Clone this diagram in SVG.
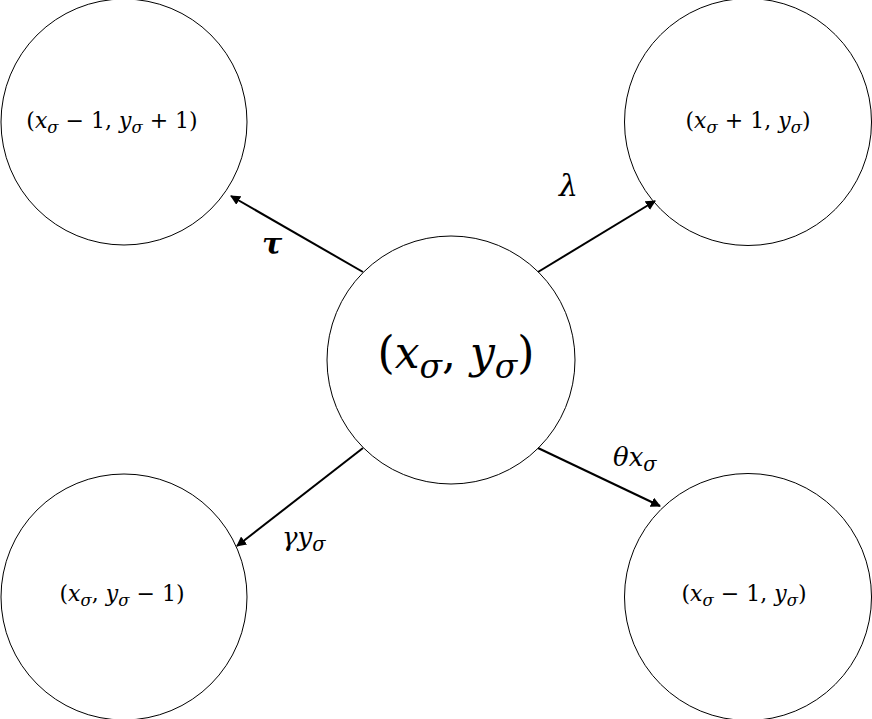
<svg xmlns="http://www.w3.org/2000/svg" width="872" height="719" viewBox="0 0 872 719">
<defs>
<marker id="ah" viewBox="0 0 10 10" refX="9" refY="5" markerWidth="5" markerHeight="5" orient="auto" markerUnits="strokeWidth">
<path d="M0,0 L10,5 L0,10 z" fill="#000"/>
</marker>
<style>
.node{fill:#fff;stroke:#000;stroke-width:1}
.edge{stroke:#000;stroke-width:2;fill:none;marker-end:url(#ah)}
text{font-family:"DejaVu Serif","Liberation Serif",serif;fill:#000}
.lbl{font-size:22px}
.big{font-size:44px}
.i{font-style:italic}
.s{font-style:italic;font-size:75%}
</style>
</defs>
<rect width="872" height="719" fill="#fff"/>
<g id="n-tl">
<circle class="node" cx="124" cy="122" r="123"/>
<text class="lbl" x="112" y="128" text-anchor="middle">(<tspan class="i">x</tspan><tspan class="s" dy="5">σ</tspan><tspan dy="-5"> − 1, </tspan><tspan class="i">y</tspan><tspan class="s" dy="5">σ</tspan><tspan dy="-5"> + 1)</tspan></text>
</g>
<g id="n-tr">
<circle class="node" cx="748" cy="122" r="123.5"/>
<text class="lbl" x="748" y="128" text-anchor="middle">(<tspan class="i">x</tspan><tspan class="s" dy="5">σ</tspan><tspan dy="-5"> + 1, </tspan><tspan class="i">y</tspan><tspan class="s" dy="5">σ</tspan><tspan dy="-5">)</tspan></text>
</g>
<g id="n-c">
<circle class="node" cx="451" cy="360" r="124"/>
<text class="big" x="456" y="368" text-anchor="middle">(<tspan class="i">x</tspan><tspan class="s" dy="10">σ</tspan><tspan dy="-10">, </tspan><tspan class="i">y</tspan><tspan class="s" dy="10">σ</tspan><tspan dy="-10">)</tspan></text>
</g>
<g id="n-bl">
<circle class="node" cx="124" cy="597" r="123"/>
<text class="lbl" x="122" y="601" text-anchor="middle">(<tspan class="i">x</tspan><tspan class="s" dy="5">σ</tspan><tspan dy="-5">, </tspan><tspan class="i">y</tspan><tspan class="s" dy="5">σ</tspan><tspan dy="-5"> − 1)</tspan></text>
</g>
<g id="n-br">
<circle class="node" cx="748" cy="597" r="123.5"/>
<text class="lbl" x="744" y="601" text-anchor="middle">(<tspan class="i">x</tspan><tspan class="s" dy="5">σ</tspan><tspan dy="-5"> − 1, </tspan><tspan class="i">y</tspan><tspan class="s" dy="5">σ</tspan><tspan dy="-5">)</tspan></text>
</g>
<g id="edges">
<line class="edge" x1="363" y1="272" x2="231" y2="196"/>
<line class="edge" x1="538" y1="272" x2="655" y2="201"/>
<line class="edge" x1="363" y1="448" x2="237" y2="546"/>
<line class="edge" x1="538" y1="448" x2="660" y2="506"/>
</g>
<g id="labels">
<text x="262" y="254" font-size="30" font-style="italic" font-weight="bold">τ</text>
<text x="559" y="196" font-size="30" font-style="italic">λ</text>
<text x="282" y="546" font-size="26"><tspan class="i">γy</tspan><tspan class="s" dy="5">σ</tspan></text>
<text x="613" y="466" font-size="26"><tspan class="i">θx</tspan><tspan class="s" dy="5">σ</tspan></text>
</g>
</svg>
